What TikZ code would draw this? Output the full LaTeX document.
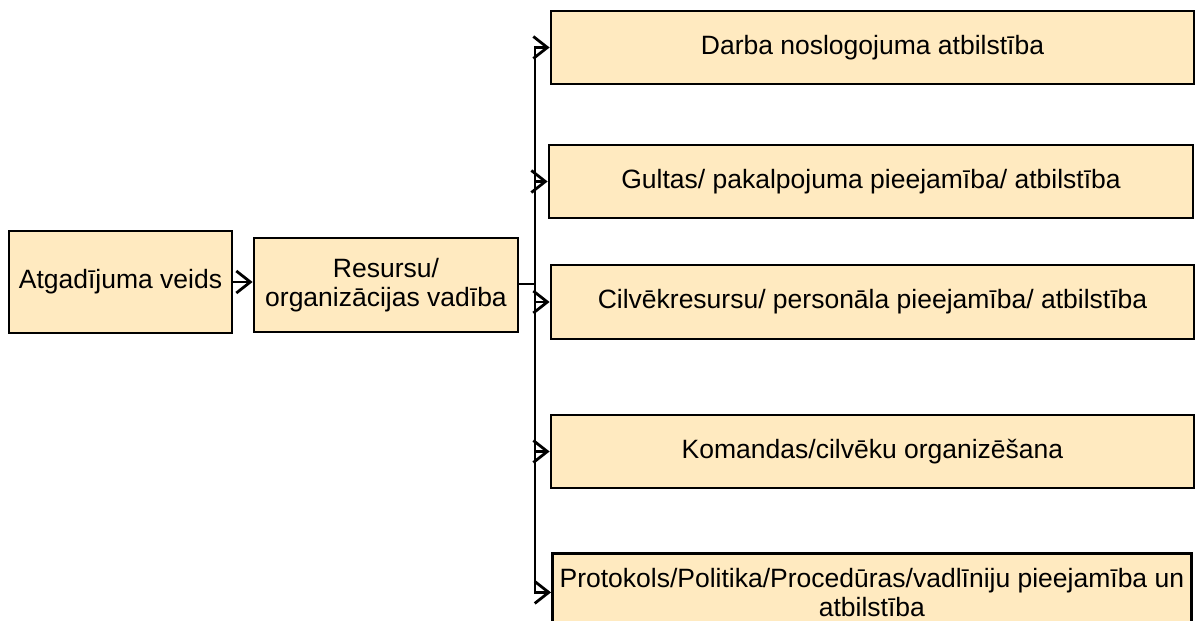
\documentclass[tikz,border=0pt]{standalone}
\usepackage{fontspec}
\setmainfont{Liberation Sans}
\usetikzlibrary{arrows.meta}
\definecolor{boxfill}{RGB}{255,234,192}
\tikzset{
  box/.style={draw=black, line width=2.8pt, fill=boxfill, inner sep=0pt, align=center,
    font=\fontsize{26.5}{29}\selectfont},
  conn/.style={line width=2.8pt, -{Straight Barb[length=14pt,width=22pt,line width=2.8pt]}},
}
\begin{document}
\begin{tikzpicture}[x=1pt,y=-1pt]
\useasboundingbox (0,0) rectangle (1195,621);
\clip (0,0) rectangle (1195,621);
\node[box, minimum width=223pt, minimum height=102pt] (a) at (120.5,282) {Atgadījuma veids};
\node[box, minimum width=264pt, minimum height=94pt] (r) at (386,285) {Resursu/\\organizācijas vadība};
\node[box, minimum width=643pt, minimum height=73pt] (d) at (872.5,47.5) {Darba noslogojuma atbilstība};
\node[box, minimum width=644pt, minimum height=73pt] (g) at (871,181.5) {Gultas/ pakalpojuma pieejamība/ atbilstība};
\node[box, minimum width=643pt, minimum height=74pt] (c) at (872.5,302) {Cilvēkresursu/ personāla pieejamība/ atbilstība};
\node[box, minimum width=643pt, minimum height=73pt] (k) at (872.5,451.5) {Komandas/cilvēku organizēšana};
\node[box, minimum width=639pt, minimum height=78pt, anchor=north west] (p) at (551,552) {Protokols/Politika/Procedūras/vadlīniju pieejamība un\\atbilstība};
\coordinate (j) at (535,284);
\draw[conn] (a.east) -- (r.west |- a.east);
\draw[line width=2.8pt] (r.east |- j) -- (j);
\draw[conn] (j) |- (d.west);
\draw[conn] (j) |- (g.west);
\draw[conn] (j) |- (c.west);
\draw[conn] (j) |- (k.west);
\draw[conn] (j) |- (p.west);
\end{tikzpicture}
\end{document}
